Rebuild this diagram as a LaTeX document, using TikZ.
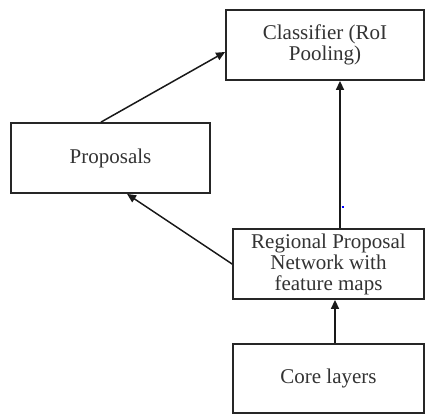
\documentclass[tikz,border=0pt]{standalone}
\usepackage{fontspec}
\setmainfont{Liberation Serif}
\usetikzlibrary{arrows.meta}
\begin{document}
\begin{tikzpicture}[x=1pt,y=-1pt,
  box/.style={draw=black!85, line width=1.8pt, inner sep=0pt, align=center,
    font=\fontsize{21}{21}\selectfont, text=black!80},
  arr/.style={draw=black!90, line width=1.5pt, -{Triangle[length=9pt,width=8pt]}}]
\useasboundingbox (0,0) rectangle (425,414);
\fill[white] (0,0) rectangle (425,414);
\node[box, minimum width=198pt, minimum height=70pt] (cls) at (325,45) {Classifier (RoI\\Pooling)};
\node[box, minimum width=199pt, minimum height=70pt] (prop) at (110.5,158) {Proposals};
\node[box, minimum width=191pt, minimum height=70pt] (rpn) at (328.5,264) {Regional Proposal\\Network with\\feature maps};
\node[box, minimum width=191pt, minimum height=69pt] (core) at (328.5,378.5) {Core layers};
\draw[arr] ([xshift=-9.5pt]prop.north) -- ([yshift=-7pt]cls.west);
\draw[arr] (rpn.west) -- ([xshift=16.5pt]prop.south);
\draw[arr] ([xshift=11.5pt]rpn.north) -- ([xshift=11.5pt]rpn.north |- cls.south);
\draw[arr] ([xshift=6.5pt]core.north) -- ([xshift=6.5pt]core.north |- rpn.south);
\coordinate (bt) at (342.5,207);
\draw[blue, line width=1.2pt] ([xshift=-1pt]bt) -- ([xshift=1pt]bt);
\end{tikzpicture}
\end{document}
